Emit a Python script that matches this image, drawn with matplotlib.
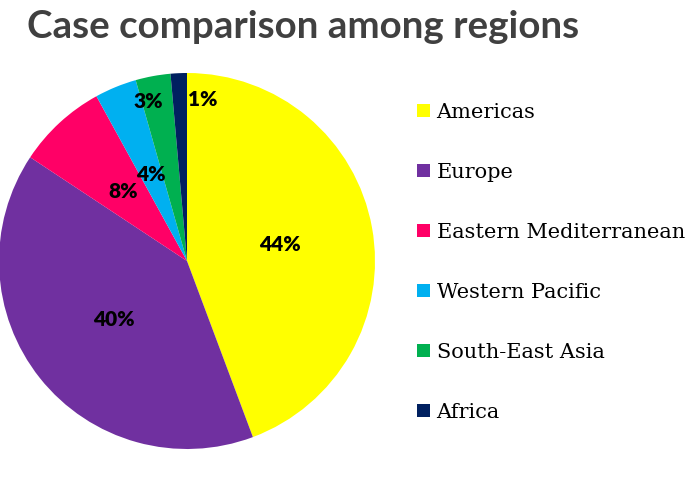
import matplotlib
matplotlib.use("Agg")
import matplotlib.pyplot as plt
from matplotlib.patches import Patch
import numpy as np

# Data
regions = ["Americas", "Europe", "Eastern Mediterranean", "Western Pacific",
           "South-East Asia", "Africa"]
shares = [44.3, 40.0, 7.7, 3.6, 3.0, 1.4]
colors = ["#FFFF00", "#7030A0", "#FF0066", "#00B0F0", "#00B050", "#002060"]

W, H = 685, 482
fig = plt.figure(figsize=(W / 100, H / 100), dpi=100)

# pie area: square of 376 px, centred at (187, 261) px from top-left
R = 188
cx, cy = 187, 261
ax = fig.add_axes([(cx - R) / W, (H - cy - R) / H, 2 * R / W, 2 * R / H])
wedges, _, autotexts = ax.pie(shares, colors=colors, startangle=90, counterclock=False,
                              autopct="%.0f%%", pctdistance=0.5,
                              wedgeprops={"linewidth": 0},
                              textprops={"fontsize": 15, "fontweight": "heavy",
                                         "family": "Lato", "color": "black"})
ax.set_xlim(-1, 1); ax.set_ylim(-1, 1)

# small slices: labels pushed out towards the rim (like Excel best fit)
for w, t, s in zip(wedges, autotexts, shares):
    if s < 3.3:
        ang = np.deg2rad((w.theta1 + w.theta2) / 2)
        x, y = 0.86 * np.cos(ang), 0.86 * np.sin(ang)
        if s < 2:
            x += 0.12
        else:
            x -= 0.05
        t.set_position((x, y))

fig.text(27 / W, 1 - 38 / H, "Case comparison among regions", fontsize=27.7,
         fontweight="bold", family="Lato", color="#404040", ha="left", va="baseline")

handles = [Patch(facecolor=c, edgecolor="none") for c in colors]
fig.legend(handles, regions, loc="upper left", bbox_to_anchor=(417 / W, 1 - 103 / H),
           frameon=False, prop={"family": "DejaVu Serif", "size": 15},
           handlelength=0.6, handleheight=0.6, handletextpad=0.34,
           labelspacing=1.97, borderaxespad=0, borderpad=0)

fig.savefig("out.png", dpi=100)
